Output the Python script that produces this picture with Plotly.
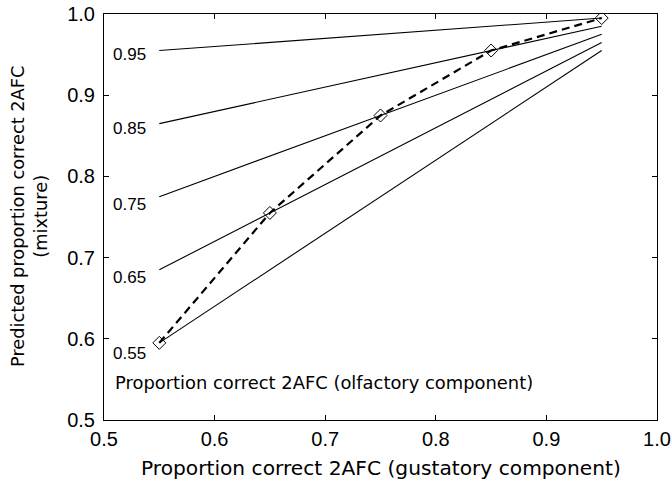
import plotly.graph_objects as go

gust_x = [0.55, 0.65, 0.75, 0.85, 0.95]
olf_levels = ["0.55", "0.65", "0.75", "0.85", "0.95"]
line_055 = [0.595, 0.685, 0.775, 0.865, 0.955]
line_065 = [0.685, 0.755, 0.825, 0.895, 0.965]
line_075 = [0.775, 0.825, 0.875, 0.925, 0.975]
line_085 = [0.865, 0.895, 0.925, 0.955, 0.985]
line_095 = [0.955, 0.965, 0.975, 0.985, 0.995]
equal_mix = [0.595, 0.755, 0.875, 0.955, 0.995]
label_y = [0.5825, 0.675, 0.765, 0.8596, 0.9507]
tick_vals = [0.5, 0.6, 0.7, 0.8, 0.9, 1.0]
tick_text = ["0.5", "0.6", "0.7", "0.8", "0.9", "1.0"]

FONT = "DejaVu Sans"
TICKFONT = "Liberation Sans"
fig = go.Figure()
for ys in [line_055, line_065, line_075, line_085, line_095]:
    fig.add_trace(go.Scatter(x=gust_x, y=ys, mode="lines",
                             line=dict(color="black", width=1.1), showlegend=False))
fig.add_trace(go.Scatter(x=gust_x, y=equal_mix, mode="lines+markers",
                         line=dict(color="black", width=2.2, dash="8px,5px"),
                         marker=dict(symbol="diamond-open", size=10, color="black",
                                     line=dict(width=1)),
                         showlegend=False))
for lab, ly in zip(olf_levels, label_y):
    fig.add_annotation(x=0.5081, y=ly, text=lab, showarrow=False, xanchor="left",
                       yanchor="middle", xshift=-2,
                       font=dict(size=17, color="black", family=TICKFONT))
fig.add_annotation(x=0.5095, y=0.5456, text="Proportion correct 2AFC (olfactory component)",
                   showarrow=False, xanchor="left", yanchor="middle", xshift=-2,
                   font=dict(size=17.9, color="black", family=FONT))
# axis titles
fig.add_annotation(xref="paper", yref="paper", x=0.5, y=0, yshift=-48,
                   text="Proportion correct 2AFC (gustatory component)",
                   showarrow=False, xanchor="center", yanchor="middle",
                   font=dict(size=20.2, color="black", family=FONT))
fig.add_annotation(xref="paper", yref="paper", x=0, y=0.5, xshift=-75,
                   text="Predicted proportion correct 2AFC<br>(mixture)", textangle=-90,
                   showarrow=False, xanchor="center", yanchor="middle",
                   font=dict(size=17.8, color="black", family=FONT))

axis_common = dict(showline=True, linecolor="black", linewidth=1, mirror="allticks",
                   ticks="inside", ticklen=5, tickcolor="black", showgrid=False,
                   zeroline=False, tickvals=tick_vals, ticktext=tick_text,
                   automargin=False,
                   tickfont=dict(size=20, color="black", family=TICKFONT))
fig.update_xaxes(range=[0.5, 1.0], ticklabelstandoff=1, **axis_common)
fig.update_yaxes(range=[0.5, 1.0], ticklabelstandoff=4, **axis_common)
fig.update_layout(width=672, height=487, margin=dict(l=104, r=15, t=14, b=67, autoexpand=False),
                  plot_bgcolor="white", paper_bgcolor="white")
fig.write_html("out.html")
